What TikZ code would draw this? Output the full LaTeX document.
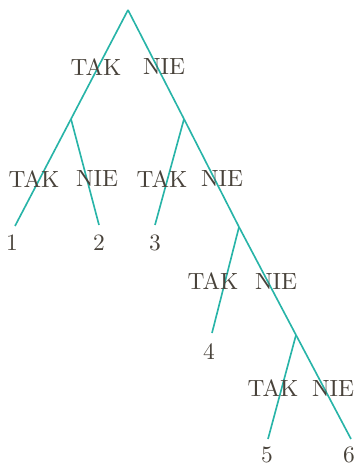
\documentclass[tikz,border=0pt]{standalone}
\usetikzlibrary{positioning}
\definecolor{mteal}{RGB}{40,180,168}
\definecolor{mtext}{RGB}{72,66,58}

\begin{document}
\begin{tikzpicture}[x=0.015cm,y=-0.015cm,
		edge/.style={mteal,line width=0.7pt},
		answer/.style={text=mtext,inner sep=1pt},
		leafnum/.style={text=mtext,inner sep=1pt}
	]
	\useasboundingbox (0,0) rectangle (358,466);

	% the branch points
	\foreach \n/\xcoord/\ycoord in {r/128/10,a/71/119,b/184/119,c/239/227,d/296/335}
		\coordinate (\n) at (\xcoord,\ycoord);

	% the leaves
	\foreach \i/\xcoord/\ycoord in {1/15/226,2/99/225,3/155/225,4/212/333,5/268/439,6/351/439}
		\coordinate (l\i) at (\xcoord,\ycoord);

	% the edges
	\draw[edge] (r) -- (a);
	\draw[edge] (r) -- (b);
	\draw[edge] (a) -- (l1);
	\draw[edge] (a) -- (l2);
	\draw[edge] (b) -- (l3);
	\draw[edge] (b) -- (c);
	\draw[edge] (c) -- (l4);
	\draw[edge] (c) -- (d);
	\draw[edge] (d) -- (l5);
	\draw[edge] (d) -- (l6);

	% the answers
	\foreach \n/\xcoord/\ycoord/\txt in {t1/96/67/TAK,n1/164/67/NIE,
		t2/34/179/TAK,n2/97/179/NIE,t3/162/179/TAK,n3/222/179/NIE,
		t4/213/281/TAK,n4/276/281/NIE,t5/273/388/TAK,n5/333/388/NIE}
		\node[answer] (\n) at (\xcoord,\ycoord) {\txt};

	% the outcomes
	\foreach \i/\xcoord/\ycoord in {1/12/243,2/99/243,3/155/243,4/209/352,5/267/455,6/349/455}
		\node[leafnum] (o\i) at (\xcoord,\ycoord) {\i};
\end{tikzpicture}
\end{document}
